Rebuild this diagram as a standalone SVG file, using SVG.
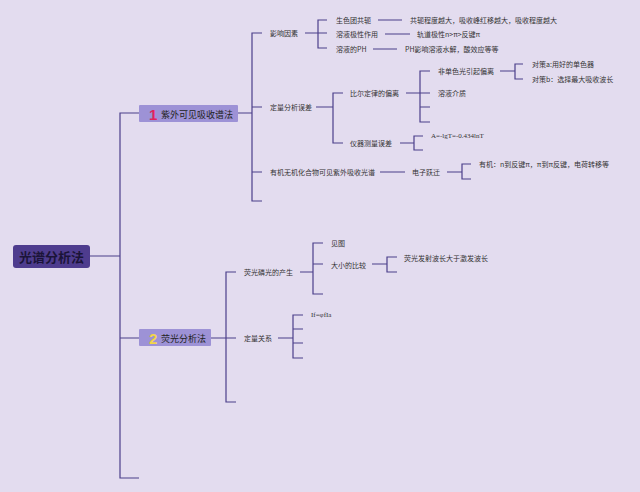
<svg xmlns="http://www.w3.org/2000/svg" width="640" height="492" viewBox="0 0 640 492">
<style>
.c{fill:none;stroke:#4b3f8a;stroke-width:1.2}
.t{font-family:"Noto Sans CJK SC","Liberation Sans",sans-serif;font-size:7px;fill:#333;dominant-baseline:central}
.s{font-family:"Liberation Serif","Noto Sans CJK SC",serif;font-size:7px;fill:#333;dominant-baseline:central}
.b{font-family:"Noto Sans CJK SC","Liberation Sans",sans-serif;font-size:9px;fill:#222;dominant-baseline:central}
.n{font-family:"Liberation Sans",sans-serif;font-size:15px;font-weight:bold;dominant-baseline:central}
</style>
<rect width="640" height="492" fill="#e3dcef"/>
<g id="connectors">
<path class="c" d="M90 256H120M139 113H120V478H139M120 338H139"/>
<path class="c" d="M238 113H252M262 33H252V201H262M252 107H262M252 172H262"/>
<path class="c" d="M305 33H318M327 20H318V48H327M318 33H327"/>
<path class="c" d="M378 20H402M385 34H410M373 49H397"/>
<path class="c" d="M316 107H333M343 93H333V143H343"/>
<path class="c" d="M406 93H420M430 71H420V122H430M420 93H430M420 107H430"/>
<path class="c" d="M500 71H515M523 64H515V79H523"/>
<path class="c" d="M400 143H414M423 136H414V150H423"/>
<path class="c" d="M380 172H405M447 172H462M471 164H462V179H471"/>
<path class="c" d="M211 338H226M236 272H226V402H236M226 338H236"/>
<path class="c" d="M300 272H313M323 243H313V294H323M313 264H323"/>
<path class="c" d="M372 264H387M397 257H387V272H397"/>
<path class="c" d="M278 338H293M303 315H293V358H303M293 329H303M293 343H303"/>
</g>
<g id="root"><rect x="13" y="245" width="77" height="23" rx="3" fill="#4e3c8e"/><text x="51.5" y="256.5" text-anchor="middle" style="font-family:'Noto Sans CJK SC',sans-serif;font-size:13px;font-weight:bold;fill:#1b1438;dominant-baseline:central">光谱分析法</text></g>
<g id="n1"><rect x="139" y="105" width="99" height="17" rx="1" fill="#9d92d6"/><text x="149" y="114" class="n" fill="#e0245e">1</text><text x="161" y="114" class="b">紫外可见吸收谱法</text></g>
<g id="n2"><rect x="139" y="329" width="72" height="17" rx="1" fill="#9d92d6"/><text x="149" y="338" class="n" fill="#f2d54a">2</text><text x="161" y="338" class="b">荧光分析法</text></g>
<g id="n_yx"><text x="270" y="33" class="t">影响因素</text></g>
<g id="n_sst"><text x="336" y="20" class="t">生色团共轭</text></g>
<g id="n_jx"><text x="336" y="34" class="t">溶液极性作用</text></g>
<g id="n_ph"><text x="336" y="49" class="t">溶液的PH</text></g>
<g id="n_gy"><text x="410" y="20" class="t">共轭程度越大，吸收峰红移越大，吸收程度越大</text></g>
<g id="n_gd"><text x="417" y="34" class="t">轨道极性n&gt;π&gt;反键π</text></g>
<g id="n_phy"><text x="405" y="49" class="t">PH影响溶液水解，酸效应等等</text></g>
<g id="n_dl"><text x="270" y="107" class="t">定量分析误差</text></g>
<g id="n_be"><text x="350" y="93" class="t">比尔定律的偏离</text></g>
<g id="n_fd"><text x="438" y="71" class="t">非单色光引起偏离</text></g>
<g id="n_rj"><text x="438" y="93" class="t">溶液介质</text></g>
<g id="n_da"><text x="532" y="64" class="t">对策a:用好的单色器</text></g>
<g id="n_db"><text x="532" y="79" class="t">对策b：选择最大吸收波长</text></g>
<g id="n_yq"><text x="350" y="143" class="t">仪器测量误差</text></g>
<g id="n_a"><text x="431" y="136" class="s">A=-lgT=-0.434lnT</text></g>
<g id="n_yj"><text x="270" y="172" class="t">有机无机化合物可见紫外吸收光谱</text></g>
<g id="n_dz"><text x="412" y="172" class="t">电子跃迁</text></g>
<g id="n_yjj"><text x="479" y="164" class="t">有机：n到反键π，π到π反键，电荷转移等</text></g>
<g id="n_cs"><text x="244" y="272" class="t">荧光磷光的产生</text></g>
<g id="n_jt"><text x="331" y="243" class="t">见图</text></g>
<g id="n_dx"><text x="331" y="265" class="t">大小的比较</text></g>
<g id="n_fs"><text x="404" y="258" class="t">荧光发射波长大于激发波长</text></g>
<g id="n_dlgx"><text x="244" y="338" class="t">定量关系</text></g>
<g id="n_if"><text x="311" y="315" class="s">If=φfIa</text></g>
</svg>
